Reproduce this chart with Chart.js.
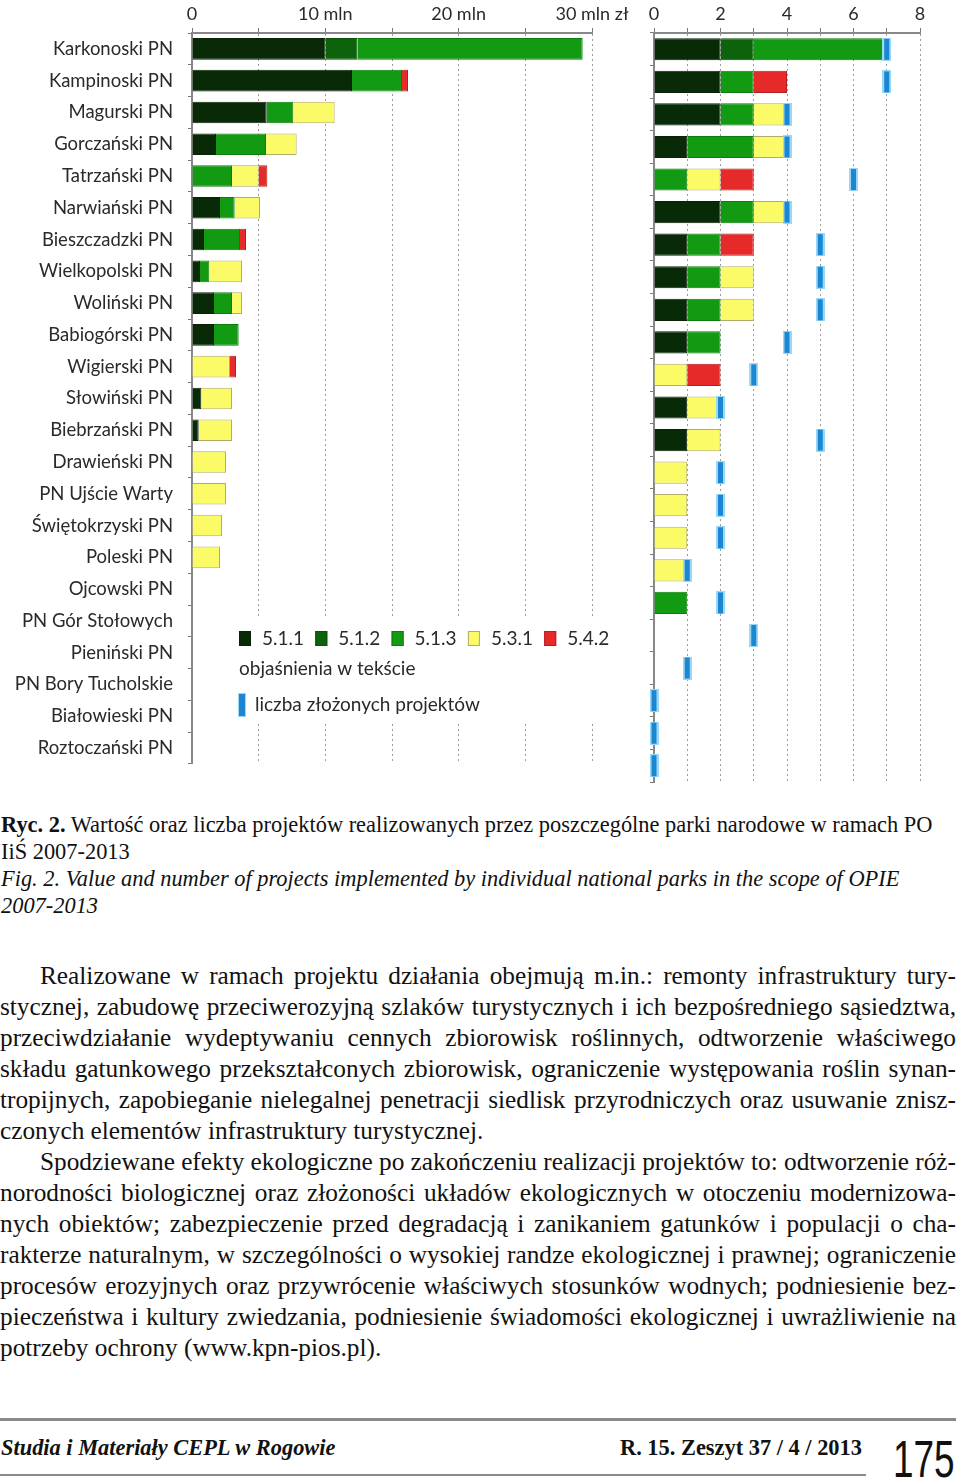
<!DOCTYPE html>
<html>
<head>
<meta charset="utf-8">
<script src="https://cdn.jsdelivr.net/npm/chart.js@4.4.0/dist/chart.umd.min.js"></script>
<style>
  body { margin: 0; width: 960px; height: 1478px; background: #fff; position: relative; overflow: hidden;
         font-family: "Liberation Serif", "Times New Roman", serif; color: #111; }
  #valueChart { position: absolute; left: 0; top: 0; }
  #countChart { position: absolute; left: 640px; top: 0; }
  .cap { position: absolute; left: 1px; font-size: 22.4px; line-height: 27px; white-space: nowrap; }
  .ln { position: absolute; left: 0; width: 956px; font-size: 25.3px; line-height: 31px; word-spacing: -4px;
        text-align: justify; text-align-last: justify; }
  .ln.last { text-align: left; text-align-last: left; word-spacing: 0; }
  .ind { left: 40px; width: 916px; }
  .rule { position: absolute; left: 0; background: #8a8a8a; }
  .foot { position: absolute; font-size: 22.4px; line-height: 26px; white-space: nowrap; font-weight: bold; }
  .page { position: absolute; left: 893px; top: 1433px; font-family: "Liberation Sans", sans-serif;
          font-size: 52px; line-height: 52px; color: #111; transform: scaleX(0.71); transform-origin: left top; }
</style>
</head>
<body>
<canvas id="valueChart" width="640" height="790"></canvas>
<canvas id="countChart" width="320" height="790"></canvas>

<div class="cap" style="top:811px"><b>Ryc. 2.</b> Wartość oraz liczba projektów realizowanych przez poszczególne parki narodowe w ramach PO</div>
<div class="cap" style="top:838px">IiŚ 2007-2013</div>
<div class="cap" style="top:865px"><i>Fig. 2. Value and number of projects implemented by individual national parks in the scope of OPIE</i></div>
<div class="cap" style="top:892px"><i>2007-2013</i></div>

<div class="ln ind" style="top:960px">Realizowane w ramach projektu działania obejmują m.in.: remonty infrastruktury tury-</div>
<div class="ln" style="top:991px">stycznej, zabudowę przeciwerozyjną szlaków turystycznych i ich bezpośredniego sąsiedztwa,</div>
<div class="ln" style="top:1022px">przeciwdziałanie wydeptywaniu cennych zbiorowisk roślinnych, odtworzenie właściwego</div>
<div class="ln" style="top:1053px">składu gatunkowego przekształconych zbiorowisk, ograniczenie występowania roślin synan-</div>
<div class="ln" style="top:1084px">tropijnych, zapobieganie nielegalnej penetracji siedlisk przyrodniczych oraz usuwanie znisz-</div>
<div class="ln last" style="top:1115px">czonych elementów infrastruktury turystycznej.</div>
<div class="ln ind" style="top:1146px">Spodziewane efekty ekologiczne po zakończeniu realizacji projektów to: odtworzenie róż-</div>
<div class="ln" style="top:1177px">norodności biologicznej oraz złożoności układów ekologicznych w otoczeniu modernizowa-</div>
<div class="ln" style="top:1208px">nych obiektów; zabezpieczenie przed degradacją i zanikaniem gatunków i populacji o cha-</div>
<div class="ln" style="top:1239px">rakterze naturalnym, w szczególności o wysokiej randze ekologicznej i prawnej; ograniczenie</div>
<div class="ln" style="top:1270px">procesów erozyjnych oraz przywrócenie właściwych stosunków wodnych; podniesienie bez-</div>
<div class="ln" style="top:1301px">pieczeństwa i kultury zwiedzania, podniesienie świadomości ekologicznej i uwrażliwienie na</div>
<div class="ln last" style="top:1332px">potrzeby ochrony (www.kpn-pios.pl).</div>

<div class="rule" style="top:1418px;width:956px;height:3px"></div>
<div class="foot" style="left:1px;top:1435px;font-style:italic">Studia i Materiały CEPL w Rogowie</div>
<div class="foot" style="left:620px;top:1435px">R. 15. Zeszyt 37 / 4 / 2013</div>
<div class="page">175</div>
<div class="rule" style="top:1474px;width:866px;height:2px"></div>

<script>
const parks = ['Karkonoski PN', 'Kampinoski PN', 'Magurski PN', 'Gorczański PN', 'Tatrzański PN',
  'Narwiański PN', 'Bieszczadzki PN', 'Wielkopolski PN', 'Woliński PN', 'Babiogórski PN',
  'Wigierski PN', 'Słowiński PN', 'Biebrzański PN', 'Drawieński PN', 'PN Ujście Warty',
  'Świętokrzyski PN', 'Poleski PN', 'Ojcowski PN', 'PN Gór Stołowych', 'Pieniński PN',
  'PN Bory Tucholskie', 'Białowieski PN', 'Roztoczański PN'];

const measures = ['5.1.1', '5.1.2', '5.1.3', '5.3.1', '5.4.2'];

// value of projects, mln zł
const value511 = [10.0, 12.0, 5.6, 1.8, 0, 2.1, 0.9, 0.6, 1.65, 1.65, 0, 0.7, 0.5, 0, 0, 0, 0, 0, 0, 0, 0, 0, 0];
const value512 = [2.4, 0, 0, 0, 0, 0, 0, 0, 0, 0, 0, 0, 0, 0, 0, 0, 0, 0, 0, 0, 0, 0, 0];
const value513 = [16.9, 3.75, 2.0, 3.75, 3.0, 1.1, 2.7, 0.7, 1.35, 1.85, 0, 0, 0, 0, 0, 0, 0, 0, 0, 0, 0, 0, 0];
const value531 = [0, 0, 3.1, 2.3, 2.0, 1.9, 0, 2.45, 0.75, 0, 2.85, 2.3, 2.5, 2.55, 2.55, 2.25, 2.1, 0, 0, 0, 0, 0, 0];
const value542 = [0, 0.45, 0, 0, 0.65, 0, 0.45, 0, 0, 0, 0.45, 0, 0, 0, 0, 0, 0, 0, 0, 0, 0, 0, 0];

// number of projects carried out
const count511 = [2, 2, 2, 1, 0, 2, 1, 1, 1, 1, 0, 1, 1, 0, 0, 0, 0, 0, 0, 0, 0, 0, 0];
const count512 = [1, 0, 0, 0, 0, 0, 0, 0, 0, 0, 0, 0, 0, 0, 0, 0, 0, 0, 0, 0, 0, 0, 0];
const count513 = [4, 1, 1, 2, 1, 1, 1, 1, 1, 1, 0, 0, 0, 0, 0, 0, 0, 1, 0, 0, 0, 0, 0];
const count531 = [0, 0, 1, 1, 1, 1, 0, 1, 1, 0, 1, 1, 1, 1, 1, 1, 1, 0, 0, 0, 0, 0, 0];
const count542 = [0, 1, 0, 0, 1, 0, 1, 0, 0, 0, 1, 0, 0, 0, 0, 0, 0, 0, 0, 0, 0, 0, 0];
// number of submitted projects (blue marks)
const submitted = [7, 7, 4, 4, 6, 4, 5, 5, 5, 4, 3, 2, 5, 2, 2, 2, 1, 2, 3, 1, 0, 0, 0];

const valueTickLabels = ['0', '', '10 mln', '', '20 mln', '', '30 mln zł'];
const countTickLabels = ['0', '', '2', '', '4', '', '6', '', '8'];

const noteText = 'objaśnienia w tekście';
const submittedLabel = 'liczba złożonych projektów';

const fills = ['#082a07', '#0c630c', '#119a12', '#fbfb68', '#e62a2a'];
const borders = ['#0b2009', '#0a500a', '#0d7d0e', '#b2ab6a', '#b51e1e'];
const textColor = '#2a2a2a';

function buildSets(series) {
  return series.map((data, i) => ({
    label: measures[i],
    data,
    backgroundColor: fills[i],
    borderColor: borders[i],
    borderWidth: 1,
    barPercentage: 0.68,
    categoryPercentage: 1,
    order: 1
  }));
}

function markerImage() {
  const c = document.createElement('canvas');
  c.width = 9;
  c.height = 23;
  const g = c.getContext('2d');
  g.fillStyle = '#9ad8f6';
  g.fillRect(0, 0, 9, 23);
  g.fillStyle = '#1b87d3';
  g.fillRect(2, 1, 5, 21);
  return c;
}

const legendBox = {
  id: 'legendBox',
  afterDraw(chart) {
    const ctx = chart.ctx;
    ctx.save();
    ctx.fillStyle = '#fff';
    ctx.fillRect(226, 616, 404, 107);
    ctx.font = '19px Lato';
    ctx.textBaseline = 'middle';
    chart.data.datasets.forEach((ds, i) => {
      const x = 239 + i * 76.3;
      ctx.fillStyle = ds.backgroundColor;
      ctx.fillRect(x, 631, 12, 15);
      ctx.strokeStyle = ds.borderColor;
      ctx.lineWidth = 1;
      ctx.strokeRect(x + 0.5, 631.5, 11, 14);
      ctx.fillStyle = textColor;
      ctx.fillText(ds.label, x + 23, 639);
    });
    ctx.fillStyle = textColor;
    ctx.fillText(noteText, 239, 669);
    ctx.fillStyle = '#9ad8f6';
    ctx.fillRect(238, 693, 8, 24);
    ctx.fillStyle = '#1b87d3';
    ctx.fillRect(239, 694, 6, 22);
    ctx.fillStyle = textColor;
    ctx.fillText(submittedLabel, 255, 705);
    ctx.restore();
  }
};

function xScale(max, labels) {
  return {
    position: 'top',
    stacked: true,
    min: 0,
    max,
    afterFit: s => { s.height = 33; },
    ticks: {
      stepSize: max / (labels.length - 1),
      autoSkip: false,
      maxRotation: 0,
      padding: 3,
      color: textColor,
      font: { size: 18 },
      callback: (v, i) => labels[i]
    },
    grid: { color: '#9c9c9c', lineWidth: 1, tickLength: 5, tickColor: '#777', tickBorderDash: [] },
    border: { display: true, color: '#888', width: 2, dash: [2, 3] }
  };
}

function yScale(width, showLabels) {
  return {
    stacked: true,
    afterFit: s => { s.width = width; },
    ticks: { display: showLabels, color: textColor, font: { size: 18.5 }, padding: 15, autoSkip: false },
    grid: { drawOnChartArea: false, tickLength: 4, color: '#777', offset: true },
    border: { display: true, color: '#888', width: 2 }
  };
}

function init() {
  Chart.defaults.font.family = 'Lato, "Open Sans", sans-serif';
  Chart.defaults.animation = false;

  new Chart(document.getElementById('valueChart'), {
    type: 'bar',
    data: { labels: parks, datasets: buildSets([value511, value512, value513, value531, value542]) },
    options: {
      indexAxis: 'y',
      responsive: false,
      layout: { padding: { left: 0, right: 48, top: 0, bottom: 8 } },
      plugins: { legend: { display: false }, tooltip: { enabled: false } },
      scales: { x: xScale(30, valueTickLabels), y: yScale(192, true) }
    },
    plugins: [legendBox]
  });

  const countSets = buildSets([count511, count512, count513, count531, count542]);
  countSets.push({
    type: 'line',
    label: submittedLabel,
    data: submitted,
    indexAxis: 'y',
    showLine: false,
    pointStyle: markerImage(),
    pointRadius: 5,
    clip: false,
    order: 0
  });

  new Chart(document.getElementById('countChart'), {
    type: 'bar',
    data: { labels: parks, datasets: countSets },
    options: {
      indexAxis: 'y',
      responsive: false,
      layout: { padding: { left: 0, right: 40, top: 0, bottom: 8 } },
      plugins: { legend: { display: false }, tooltip: { enabled: false } },
      scales: { x: xScale(8, countTickLabels), y: yScale(14, false) }
    }
  });
}

document.fonts.load('17px Lato').then(init, init);
</script>
</body>
</html>
